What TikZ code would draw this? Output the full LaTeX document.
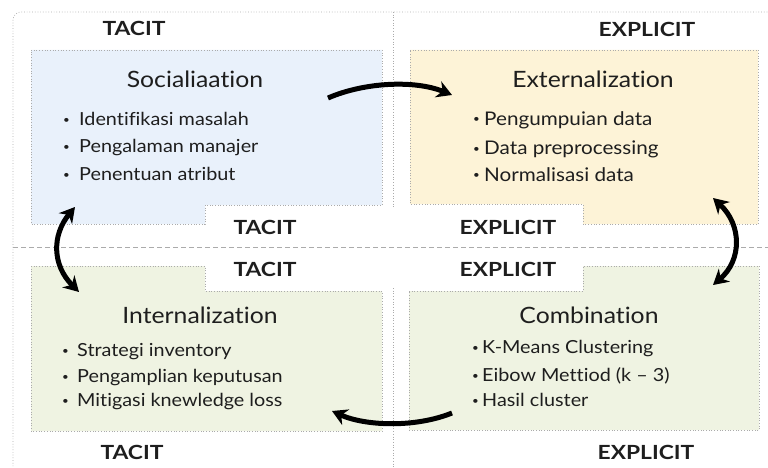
\documentclass[tikz,border=0pt]{standalone}
\usepackage{fontspec}
\setmainfont{Lato}[FakeStretch=1.1, Ligatures=NoCommon]
\newfontfamily\labfont{Lato}[FakeStretch=1.17, Ligatures=NoCommon]
\usetikzlibrary{arrows.meta}
\definecolor{bluebox}{RGB}{233,241,251}
\definecolor{yelbox}{RGB}{253,243,215}
\definecolor{grnbox}{RGB}{239,243,226}
\definecolor{framegray}{RGB}{150,150,150}
\definecolor{ink}{RGB}{30,30,30}
\newcommand{\bul}[1]{\makebox[#1][l]{\fontsize{10.5}{10.5}\selectfont\raisebox{2pt}{•}}}
\begin{document}
\begin{tikzpicture}[x=1pt,y=-1pt,
  boxline/.style={draw=framegray!80, dotted, line width=0.7pt},
  divider/.style={draw=framegray!80, line width=0.7pt},
  lab/.style={font=\labfont\fontsize{19.5}{19.5}\selectfont\bfseries, text=ink, anchor=base},
  ttl/.style={font=\fontsize{22.5}{22.5}\selectfont, text=ink, anchor=base},
  item/.style={font=\fontsize{18}{18}\selectfont, text=ink, anchor=base west, inner xsep=0pt},
  itemb/.style={font=\fontsize{18.8}{18.8}\selectfont, text=ink, anchor=base west, inner xsep=0pt},
  arr/.style={line width=5pt, -{Stealth[length=15pt,width=17pt]}},
  darr/.style={line width=5pt, {Stealth[length=15pt,width=17pt]}-{Stealth[length=15pt,width=17pt]}}]
\useasboundingbox (0,0) rectangle (768,468);
\fill[white] (0,0) rectangle (768,468);
% frame and dividers
\draw[divider, dotted, rounded corners=8pt] (13,12) rectangle (785,485);
\draw[divider, dotted] (393,12) -- (393,209);
\draw[divider, dotted] (393,288) -- (393,468);
\draw[divider, dashed, dash pattern=on 5pt off 3pt] (13,247) -- (768,247);
% boxes
\path[boxline, fill=bluebox] (31,50) -- (382,50) -- (382,205) -- (205,205) -- (205,224) -- (31,224) -- cycle;
\path[boxline, fill=yelbox] (410,50) -- (758,50) -- (758,224) -- (583,224) -- (583,204) -- (410,204) -- cycle;
\path[boxline, fill=grnbox] (31,266) -- (205,266) -- (205,291) -- (382,291) -- (382,431) -- (31,431) -- cycle;
\path[boxline, fill=grnbox] (409,291) -- (583,291) -- (583,266) -- (759,266) -- (759,430) -- (409,430) -- cycle;
% labels
\node[lab] (t1) at (134,36) {TACIT};
\node[lab] (e1) at (647,37) {EXPLICIT};
\node[lab] (t2) at (265,234) {TACIT};
\node[lab] (e2) at (508,234) {EXPLICIT};
\node[lab] (t3) at (265,276) {TACIT};
\node[lab] (e3) at (508,276) {EXPLICIT};
\node[lab] (t4) at (132,459) {TACIT};
\node[lab] (e4) at (646,459) {EXPLICIT};
% Socialization
\node[ttl] (soc) at (195,88) {Socialiaation};
\node[item] (s1) at (63,126) {\bul{16pt}Identifikasi masalah};
\node[item] (s2) at (63,153) {\bul{16pt}Pengalaman manajer};
\node[item] (s3) at (63,180) {\bul{16pt}Penentuan atribut};
% Externalization
\node[ttl] (ext) at (593,88) {Externalization};
\node[itemb] (x1) at (473,125) {\bul{11pt}Pengumpuian data};
\node[itemb] (x2) at (473,154) {\bul{11pt}Data preprocessing};
\node[itemb] (x3) at (473,181) {\bul{11pt}Normalisasi data};
% Internalization
\node[ttl] (int) at (200,323) {Internalization};
\node[item] (i1) at (62,356) {\bul{15pt}Strategi inventory};
\node[item] (i2) at (62,382) {\bul{15pt}Pengamplian keputusan};
\node[item] (i3) at (62,406) {\bul{15pt}Mitigasi knewledge loss};
% Combination
\node[ttl] (com) at (589,323) {Combination};
\node[item] (c1) at (472,353) {\bul{10pt}K-Means Clustering};
\node[item] (c2) at (472,381) {\bul{10pt}Eibow Mettiod (k – 3)};
\node[item] (c3) at (472,406) {\bul{10pt}Hasil cluster};
% arrow end points
\coordinate (a1s) at (328,98);
\coordinate (a1e) at (452,95);
\coordinate (a2s) at (452,413);
\coordinate (a2e) at (332,411);
\coordinate (l1) at (75,207);
\coordinate (l2) at (79,292);
\coordinate (r1) at (713,198);
\coordinate (r2) at (713,285);
% arrows
\draw[arr] (a1s) .. controls (365,82) and (415,80) .. (a1e);
\draw[arr] (a2s) .. controls (415,428) and (365,426) .. (a2e);
\draw[darr] (l1) .. controls (52,235) and (52,265) .. (l2);
\draw[darr] (r1) .. controls (742,225) and (742,260) .. (r2);
\end{tikzpicture}
\end{document}
